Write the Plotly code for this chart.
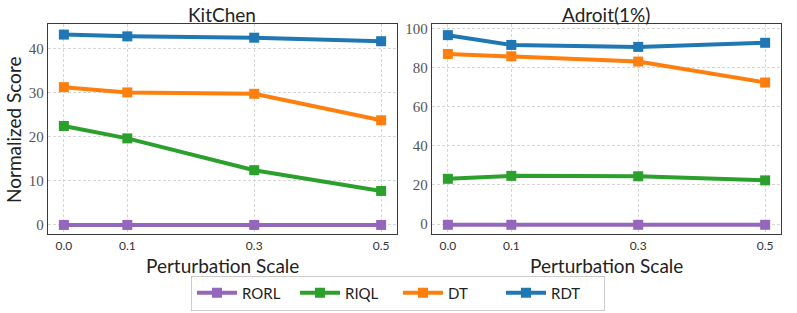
import plotly.graph_objects as go

scales = [0.0, 0.1, 0.3, 0.5]
tick_labels = ["0.0", "0.1", "0.3", "0.5"]
methods = ["RORL", "RIQL", "DT", "RDT"]
colors = {"RORL": "#9467bd", "RIQL": "#2ca02c", "DT": "#ff7f0e", "RDT": "#1f77b4"}

kitchen_rorl = [0.0, 0.0, 0.0, 0.0]
kitchen_riql = [22.4, 19.6, 12.4, 7.7]
kitchen_dt = [31.2, 30.0, 29.7, 23.7]
kitchen_rdt = [43.1, 42.7, 42.4, 41.6]

adroit_rorl = [-0.4, -0.4, -0.4, -0.4]
adroit_riql = [23.1, 24.6, 24.4, 22.3]
adroit_dt = [86.9, 85.7, 83.0, 72.3]
adroit_rdt = [96.5, 91.5, 90.5, 92.6]

kitchen = {"RORL": kitchen_rorl, "RIQL": kitchen_riql, "DT": kitchen_dt, "RDT": kitchen_rdt}
adroit = {"RORL": adroit_rorl, "RIQL": adroit_riql, "DT": adroit_dt, "RDT": adroit_rdt}

W, H = 797, 313
fig = go.Figure()

for i, (data, xa, ya) in enumerate([(kitchen, "x", "y"), (adroit, "x2", "y2")]):
    for m in methods:
        fig.add_trace(go.Scatter(
            x=scales, y=data[m], xaxis=xa, yaxis=ya, name=m,
            mode="lines+markers", showlegend=(i == 0),
            line=dict(color=colors[m], width=4),
            marker=dict(symbol="square", size=10, color=colors[m]),
        ))

def px(x):
    return x / W

def py(y):
    return 1 - y / H

axis_common = dict(
    showline=True, mirror=True, linecolor="#3a3a3a", linewidth=1.3,
    showgrid=True, gridcolor="#d6d6d6", griddash="3px,2px", gridwidth=1,
    zeroline=False, ticks="", ticklen=0, automargin=False,
)

fig.update_layout(
    template="none",
    width=W, height=H,
    margin=dict(l=0, r=0, t=0, b=0, autoexpand=False),
    paper_bgcolor="white", plot_bgcolor="white",
    xaxis=dict(domain=[px(48), px(397)], range=[-0.025, 0.525], tickvals=scales, ticktext=tick_labels,
               tickfont=dict(family="Lato", size=12, color="#333"), anchor="y", **axis_common),
    yaxis=dict(domain=[py(234), py(24)], range=[-2.05, 45.5], tickvals=[0, 10, 20, 30, 40],
               tickfont=dict(family="Liberation Serif", size=15, color="#555"), anchor="x", **axis_common),
    xaxis2=dict(domain=[px(432), px(781)], range=[-0.025, 0.525], tickvals=scales, ticktext=tick_labels,
                tickfont=dict(family="Lato", size=12, color="#333"), anchor="y2", **axis_common),
    yaxis2=dict(domain=[py(234), py(24)], range=[-5.1, 102.2], tickvals=[0, 20, 40, 60, 80, 100],
                tickfont=dict(family="Liberation Serif", size=15, color="#555"), anchor="x2", **axis_common),
    legend=dict(orientation="h", x=px(398), xanchor="center", y=py(293), yanchor="middle",
                bordercolor="#ccc", borderwidth=1, font=dict(family="Lato", size=15, color="#222"),
                entrywidth=48, entrywidthmode="pixels", itemwidth=40, traceorder="normal",
                tracegroupgap=0, bgcolor="white"),
)

titles = [("KitChen", 222), ("Adroit(1%)", 606)]
for t, xc in titles:
    fig.add_annotation(text=t, x=px(xc), y=py(14), xref="paper", yref="paper",
                       xanchor="center", yanchor="middle",
                       showarrow=False, font=dict(family="Lato", size=19, color="#222"))
for xc in [222, 606]:
    fig.add_annotation(text="Perturbation Scale", x=px(xc), y=py(265), xref="paper", yref="paper",
                       xanchor="center", yanchor="middle",
                       showarrow=False, font=dict(family="Lato", size=19, color="#222"))
fig.add_annotation(text="Normalized Score", x=px(13), y=py(130), xref="paper", yref="paper",
                   xanchor="center", yanchor="middle",
                   showarrow=False, textangle=-90, font=dict(family="Lato", size=19, color="#222"))

fig.write_html("out.html", config={"displayModeBar": False},
               post_script="document.body.style.margin='0';")
